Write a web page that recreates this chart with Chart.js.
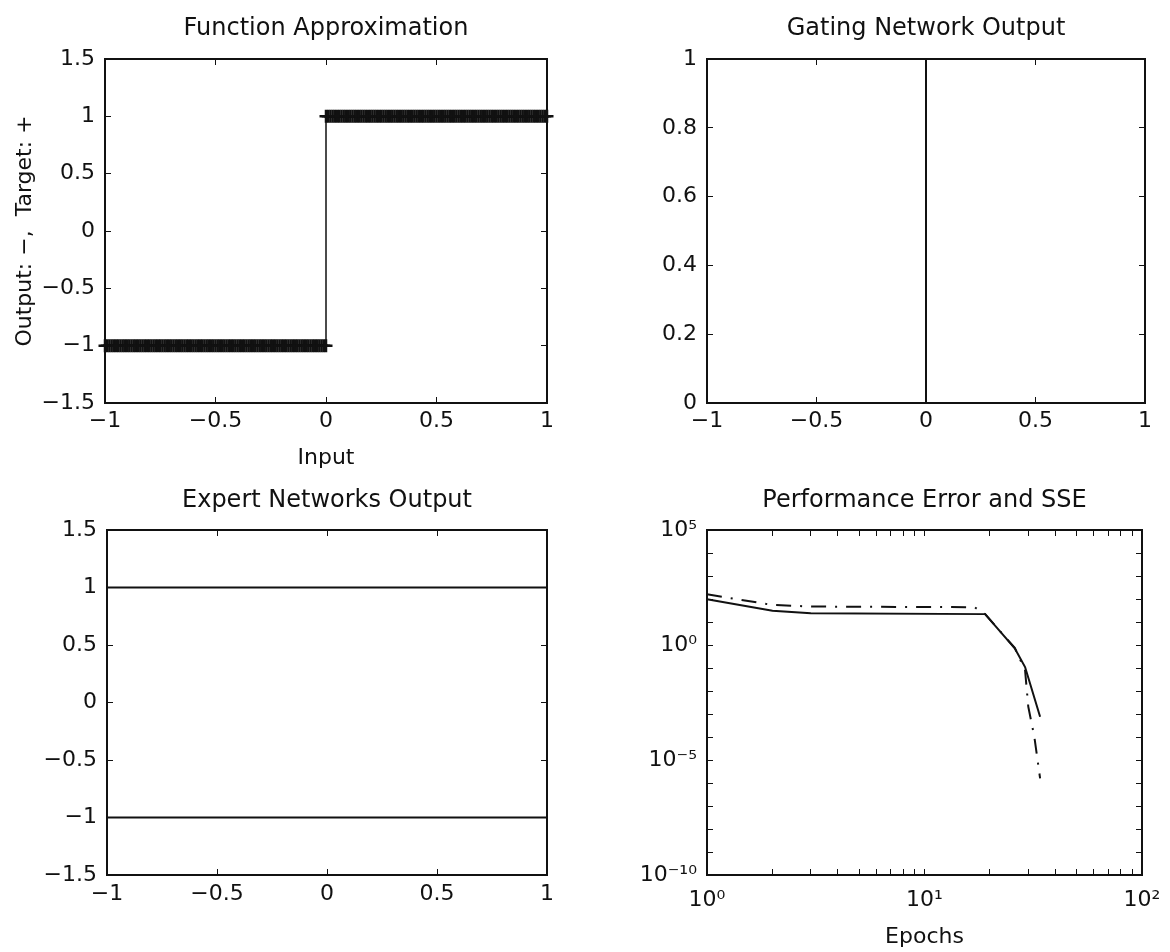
<!DOCTYPE html>
<html>
<head>
<meta charset="utf-8">
<script src="https://cdn.jsdelivr.net/npm/chart.js@4.4.0/dist/chart.umd.min.js"></script>
<style>
  body { margin: 0; background: #fff; }
  #fig { position: relative; width: 1170px; height: 952px; overflow: hidden; }
  #fig canvas { position: absolute; }
</style>
</head>
<body>
<div id="fig">
  <canvas id="fnChart" width="585" height="472" style="left:0;top:0"></canvas>
  <canvas id="gateChart" width="585" height="472" style="left:585px;top:0"></canvas>
  <canvas id="expertChart" width="585" height="484" style="left:0;top:468px"></canvas>
  <canvas id="perfChart" width="585" height="484" style="left:585px;top:468px"></canvas>
</div>
<script>
// --- Function Approximation: targets (+) and network output (solid)
const targetLowX = [-1, -0.99, -0.98, -0.97, -0.96, -0.95, -0.94, -0.93, -0.92, -0.91, -0.9, -0.89, -0.88, -0.87, -0.86, -0.85, -0.84, -0.83, -0.82, -0.81, -0.8, -0.79, -0.78, -0.77, -0.76, -0.75, -0.74, -0.73, -0.72, -0.71, -0.7, -0.69, -0.68, -0.67, -0.66, -0.65, -0.64, -0.63, -0.62, -0.61, -0.6, -0.59, -0.58, -0.57, -0.56, -0.55, -0.54, -0.53, -0.52, -0.51, -0.5, -0.49, -0.48, -0.47, -0.46, -0.45, -0.44, -0.43, -0.42, -0.41, -0.4, -0.39, -0.38, -0.37, -0.36, -0.35, -0.34, -0.33, -0.32, -0.31, -0.3, -0.29, -0.28, -0.27, -0.26, -0.25, -0.24, -0.23, -0.22, -0.21, -0.2, -0.19, -0.18, -0.17, -0.16, -0.15, -0.14, -0.13, -0.12, -0.11, -0.1, -0.09, -0.08, -0.07, -0.06, -0.05, -0.04, -0.03, -0.02, -0.01, 0];
const targetHighX = [0, 0.01, 0.02, 0.03, 0.04, 0.05, 0.06, 0.07, 0.08, 0.09, 0.1, 0.11, 0.12, 0.13, 0.14, 0.15, 0.16, 0.17, 0.18, 0.19, 0.2, 0.21, 0.22, 0.23, 0.24, 0.25, 0.26, 0.27, 0.28, 0.29, 0.3, 0.31, 0.32, 0.33, 0.34, 0.35, 0.36, 0.37, 0.38, 0.39, 0.4, 0.41, 0.42, 0.43, 0.44, 0.45, 0.46, 0.47, 0.48, 0.49, 0.5, 0.51, 0.52, 0.53, 0.54, 0.55, 0.56, 0.57, 0.58, 0.59, 0.6, 0.61, 0.62, 0.63, 0.64, 0.65, 0.66, 0.67, 0.68, 0.69, 0.7, 0.71, 0.72, 0.73, 0.74, 0.75, 0.76, 0.77, 0.78, 0.79, 0.8, 0.81, 0.82, 0.83, 0.84, 0.85, 0.86, 0.87, 0.88, 0.89, 0.9, 0.91, 0.92, 0.93, 0.94, 0.95, 0.96, 0.97, 0.98, 0.99, 1];
const targetLevels = [-1, 1];
const outputX = [-1, 0, 0, 1];
const outputY = [-1, -1, 1, 1];

// --- Gating Network Output
const gateX = [-1, 0, 0, 1];
const gateA = [1, 1, 0, 0];
const gateB = [0, 0, 1, 1];

// --- Expert Networks Output
const expertX = [-1, 1];
const expertA = [1, 1];
const expertB = [-1, -1];

// --- Performance Error and SSE (log-log)
const sseEpochs = [1, 2, 3, 19, 26, 29, 34];
const sseValues = [98, 31, 24, 22, 0.72, 0.11, 7.6e-4];
const errEpochs = [1, 2, 3, 17, 19, 26, 29, 30, 32, 34];
const errValues = [160, 55, 47, 44, 22, 0.75, 0.08, 2.1e-3, 1e-4, 1.6e-6];

// --- ticks
const stepXTicks = [-1, -0.5, 0, 0.5, 1];
const stepXLabels = ["\u22121", "\u22120.5", "0", "0.5", "1"];
const stepYTicks = [-1.5, -1, -0.5, 0, 0.5, 1, 1.5];
const stepYLabels = ["\u22121.5", "\u22121", "\u22120.5", "0", "0.5", "1", "1.5"];
const gateYTicks = [0, 0.2, 0.4, 0.6, 0.8, 1];
const gateYLabels = ["0", "0.2", "0.4", "0.6", "0.8", "1"];
const perfXTicks = [1, 2, 3, 4, 5, 6, 7, 8, 9, 10, 20, 30, 40, 50, 60, 70, 80, 90, 100];
const perfXLabelAt = [1, 10, 100];
const perfXLabels = ["10\u2070", "10\u00b9", "10\u00b2"];
const perfYTicks = [1e-10, 1e-9, 1e-8, 1e-7, 1e-6, 1e-5, 1e-4, 1e-3, 1e-2, 1e-1, 1, 10, 100, 1e3, 1e4, 1e5];
const perfYLabelAt = [1e-10, 1e-5, 1, 1e5];
const perfYLabels = ["10\u207b\u00b9\u2070", "10\u207b\u2075", "10\u2070", "10\u2075"];

const INK = "#111";
Chart.defaults.font.family = '"DejaVu Sans", sans-serif';
Chart.defaults.color = INK;

function pts(xs, ys) {
  return xs.map((x, i) => ({ x: x, y: ys[i] }));
}

function labeller(values, labels) {
  return function (value) {
    const i = values.findIndex(v => Math.abs(v - value) <= 1e-6 * Math.max(Math.abs(v), 1e-12));
    return i < 0 ? "" : labels[i];
  };
}

// one side of the MATLAB-style box, ticks pointing inward
function edge(position, type, range, marks, labelFn, size, pad, title) {
  return {
    type: type,
    position: position,
    min: range[0],
    max: range[1],
    afterBuildTicks: s => { s.ticks = marks.map(v => ({ value: v })); },
    afterFit: s => {
      if (s.isHorizontal()) s.height = size; else s.width = size;
      // let the layout padding alone decide where the box sits
      s.paddingLeft = s.paddingRight = s.paddingTop = s.paddingBottom = 0;
    },
    grid: { display: true, drawOnChartArea: false, drawTicks: true, tickLength: -6, color: INK, lineWidth: 1 },
    border: { display: true, color: INK, width: 2 },
    ticks: labelFn
      ? { display: true, autoSkip: false, maxRotation: 0, minRotation: 0, padding: pad, color: INK, font: { size: 22 }, callback: labelFn }
      : { display: false },
    title: title
      ? { display: true, text: title.text, color: INK, font: { size: 22 }, padding: title.padding }
      : { display: false }
  };
}

function makeChart(id, cfg) {
  return new Chart(document.getElementById(id), {
    type: "scatter",
    data: { datasets: cfg.datasets },
    options: {
      responsive: false,
      devicePixelRatio: 1,
      animation: false,
      events: [],
      layout: { padding: { left: 0, top: 0, right: cfg.right, bottom: 0 } },
      plugins: {
        legend: { display: false },
        tooltip: { enabled: false },
        title: {
          display: true, text: cfg.title, color: INK, fullSize: false,
          font: { size: 24, weight: "normal" },
          padding: cfg.titlePad
        }
      },
      scales: {
        x: edge("bottom", cfg.xType, cfg.xRange, cfg.xMarks, cfg.xLabels, cfg.bottom, cfg.xPad, cfg.xTitle),
        xTop: edge("top", cfg.xType, cfg.xRange, cfg.xMarks, null, 0, 0, null),
        y: edge("left", cfg.yType, cfg.yRange, cfg.yMarks, cfg.yLabels, cfg.left, 16, cfg.yTitle),
        yRight: edge("right", cfg.yType, cfg.yRange, cfg.yMarks, null, 0, 0, null)
      }
    }
  });
}

const solid = (data) => ({ data: data, showLine: true, pointRadius: 0, borderColor: INK, borderWidth: 2, tension: 0, clip: false });
const plus = (data) => ({ data: data, pointStyle: "cross", pointRadius: 6.5, borderColor: INK, borderWidth: 2.5, clip: false });

makeChart("fnChart", {
  title: "Function Approximation",
  titlePad: { top: 14, bottom: 16.2 },
  right: 38, left: 105, bottom: 69, xPad: 11,
  xType: "linear", xRange: [-1, 1], xMarks: stepXTicks, xLabels: labeller(stepXTicks, stepXLabels),
  yType: "linear", yRange: [-1.5, 1.5], yMarks: stepYTicks, yLabels: labeller(stepYTicks, stepYLabels),
  xTitle: { text: "Input", padding: { top: 0, bottom: 1 } },
  yTitle: { text: "Output: \u2212,  Target: +", padding: { top: 12, bottom: 0 } },
  datasets: [
    plus(targetLowX.map(x => ({ x: x, y: targetLevels[0] }))),
    plus(targetHighX.map(x => ({ x: x, y: targetLevels[1] }))),
    Object.assign(solid(pts(outputX, outputY)), { borderWidth: 1.5 })
  ]
});

makeChart("gateChart", {
  title: "Gating Network Output",
  titlePad: { top: 14, bottom: 16.2 },
  right: 25, left: 122, bottom: 69, xPad: 11,
  xType: "linear", xRange: [-1, 1], xMarks: stepXTicks, xLabels: labeller(stepXTicks, stepXLabels),
  yType: "linear", yRange: [0, 1], yMarks: gateYTicks, yLabels: labeller(gateYTicks, gateYLabels),
  datasets: [
    solid(pts(gateX, gateA)),
    solid(pts(gateX, gateB))
  ]
});

makeChart("expertChart", {
  title: "Expert Networks Output",
  titlePad: { top: 18, bottom: 15.2 },
  right: 38, left: 107, bottom: 77, xPad: 12,
  xType: "linear", xRange: [-1, 1], xMarks: stepXTicks, xLabels: labeller(stepXTicks, stepXLabels),
  yType: "linear", yRange: [-1.5, 1.5], yMarks: stepYTicks, yLabels: labeller(stepYTicks, stepYLabels),
  datasets: [
    solid(pts(expertX, expertA)),
    solid(pts(expertX, expertB))
  ]
});

makeChart("perfChart", {
  title: "Performance Error and SSE",
  titlePad: { top: 18, bottom: 15.2 },
  right: 28, left: 122, bottom: 77, xPad: 18,
  xType: "logarithmic", xRange: [1, 100], xMarks: perfXTicks, xLabels: labeller(perfXLabelAt, perfXLabels),
  yType: "logarithmic", yRange: [1e-10, 1e5], yMarks: perfYTicks, yLabels: labeller(perfYLabelAt, perfYLabels),
  xTitle: { text: "Epochs", padding: { top: 0, bottom: 2 } },
  datasets: [
    solid(pts(sseEpochs, sseValues)),
    Object.assign(solid(pts(errEpochs, errValues)), { borderDash: [15, 9, 2, 9] })
  ]
});
</script>
</body>
</html>
